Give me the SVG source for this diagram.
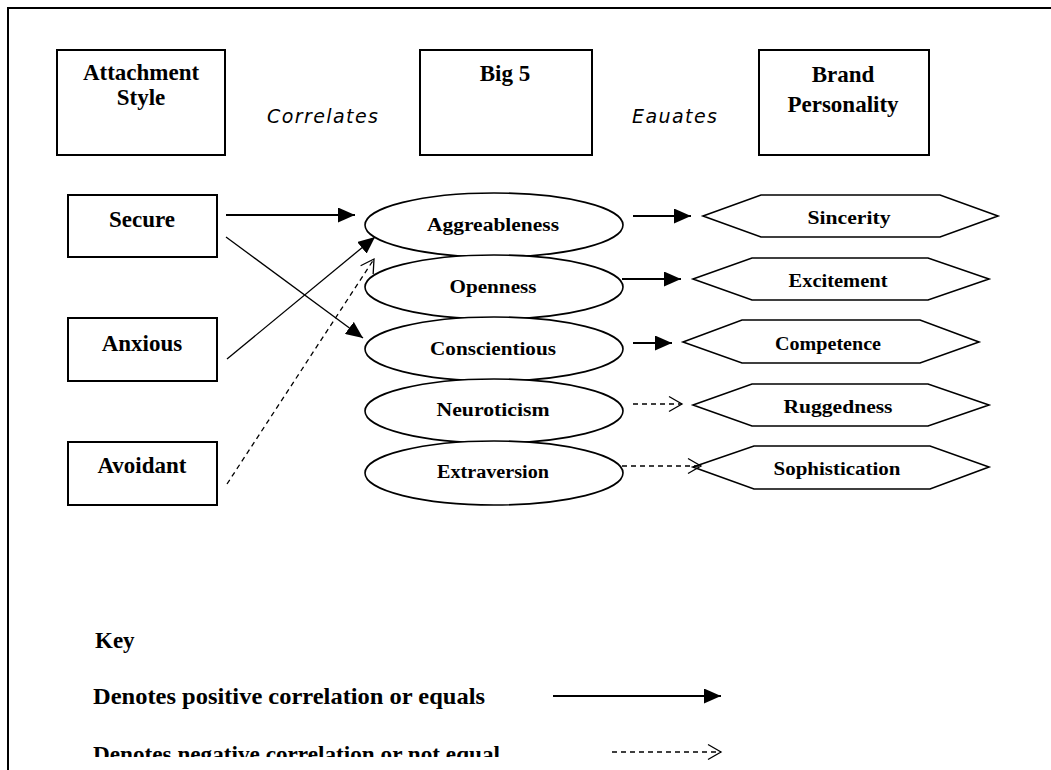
<svg xmlns="http://www.w3.org/2000/svg" width="1051" height="770" viewBox="0 0 1051 770">
  <style>
    .frame { fill: none; stroke: #000; stroke-width: 2; }
    .box { fill: #fff; stroke: #000; stroke-width: 2; }
    .oval { fill: #fff; stroke: #000; stroke-width: 1.6; }
    .hex { fill: #fff; stroke: #000; stroke-width: 1.6; stroke-linejoin: miter; }
    .title { font-family: "Liberation Serif", serif; font-weight: bold; font-size: 23px; fill: #000; text-anchor: middle; }
    .label { font-family: "Liberation Serif", serif; font-weight: bold; font-size: 18px; fill: #000; text-anchor: middle; }
    .verb { font-family: "DejaVu Sans", sans-serif; font-style: italic; font-size: 19px; fill: #000; }
    .key { font-family: "Liberation Serif", serif; font-weight: bold; font-size: 23px; fill: #000; }
    .solid { fill: none; stroke: #000; stroke-width: 1.8; }
    .thin { fill: none; stroke: #000; stroke-width: 1.3; }
    .dashed { fill: none; stroke: #000; stroke-width: 1.3; stroke-dasharray: 5 4; }
  </style>
  <defs>
    <marker id="head-solid" markerWidth="17" markerHeight="15" refX="17" refY="7.5" orient="auto" markerUnits="userSpaceOnUse">
      <path d="M0,0 L17,7.5 L0,15 Z" fill="#000"/>
    </marker>
    <marker id="head-open" markerWidth="15" markerHeight="17" refX="14" refY="8.5" orient="auto" markerUnits="userSpaceOnUse" overflow="visible">
      <path d="M1,1 L14,8.5 L1,16" fill="none" stroke="#000" stroke-width="1.3"/>
    </marker>
    <clipPath id="cut-bottom">
      <rect x="0" y="0" width="1051" height="757"/>
    </clipPath>
  </defs>

  <!-- page frame: top and left rules only -->
  <path class="frame" d="M8,770 L8,8 L1051,8"/>

  <!-- column headings -->
  <g id="attachment-style">
    <rect class="box" x="57" y="50" width="168" height="105"/>
    <text class="title" x="141" y="80">Attachment</text>
    <text class="title" x="141" y="105">Style</text>
  </g>
  <g id="big-5">
    <rect class="box" x="420" y="50" width="172" height="105"/>
    <text class="title" x="505" y="81">Big 5</text>
  </g>
  <g id="brand-personality">
    <rect class="box" x="759" y="50" width="170" height="105"/>
    <text class="title" x="843" y="82">Brand</text>
    <text class="title" x="843" y="112">Personality</text>
  </g>
  <text class="verb" x="267" y="123" textLength="111" lengthAdjust="spacing">Correlates</text>
  <text class="verb" x="632" y="123" textLength="85" lengthAdjust="spacing">Eauates</text>

  <!-- attachment styles -->
  <g id="secure">
    <rect class="box" x="68" y="195" width="149" height="62"/>
    <text class="title" x="142" y="227">Secure</text>
  </g>
  <g id="anxious">
    <rect class="box" x="68" y="318" width="149" height="63"/>
    <text class="title" x="142" y="351">Anxious</text>
  </g>
  <g id="avoidant">
    <rect class="box" x="68" y="442" width="149" height="63"/>
    <text class="title" x="142" y="473">Avoidant</text>
  </g>

  <!-- Big 5 traits, stacked ovals drawn top to bottom -->
  <g id="aggreableness">
    <ellipse class="oval" cx="494" cy="225" rx="129" ry="32"/>
    <text class="label" x="493" y="231" textLength="132" lengthAdjust="spacingAndGlyphs">Aggreableness</text>
  </g>
  <g id="openness">
    <ellipse class="oval" cx="494" cy="287" rx="129" ry="32"/>
    <text class="label" x="493" y="293" textLength="87" lengthAdjust="spacingAndGlyphs">Openness</text>
  </g>
  <g id="conscientious">
    <ellipse class="oval" cx="494" cy="349" rx="129" ry="32"/>
    <text class="label" x="493" y="355" textLength="126" lengthAdjust="spacingAndGlyphs">Conscientious</text>
  </g>
  <g id="neuroticism">
    <ellipse class="oval" cx="494" cy="411" rx="129" ry="32"/>
    <text class="label" x="493" y="416" textLength="113" lengthAdjust="spacingAndGlyphs">Neuroticism</text>
  </g>
  <g id="extraversion">
    <ellipse class="oval" cx="494" cy="473" rx="129" ry="32"/>
    <text class="label" x="493" y="478" textLength="112" lengthAdjust="spacingAndGlyphs">Extraversion</text>
  </g>

  <!-- brand personality dimensions -->
  <g id="sincerity">
    <polygon class="hex" points="703,216 761,195 940,195 998,216 940,237 761,237"/>
    <text class="label" x="849" y="224" textLength="83" lengthAdjust="spacingAndGlyphs">Sincerity</text>
  </g>
  <g id="excitement">
    <polygon class="hex" points="693,279 752,258 928,258 989,279 928,300 752,300"/>
    <text class="label" x="838" y="287" textLength="99" lengthAdjust="spacingAndGlyphs">Excitement</text>
  </g>
  <g id="competence">
    <polygon class="hex" points="683,342 742,320 920,320 979,342 920,363 742,363"/>
    <text class="label" x="828" y="350" textLength="106" lengthAdjust="spacingAndGlyphs">Competence</text>
  </g>
  <g id="ruggedness">
    <polygon class="hex" points="693,405 752,384 928,384 989,405 928,426 752,426"/>
    <text class="label" x="838" y="413" textLength="109" lengthAdjust="spacingAndGlyphs">Ruggedness</text>
  </g>
  <g id="sophistication">
    <polygon class="hex" points="693,467 754,446 930,446 989,467 930,489 754,489"/>
    <text class="label" x="837" y="475" textLength="127" lengthAdjust="spacingAndGlyphs">Sophistication</text>
  </g>

  <!-- connectors -->
  <g id="connectors">
    <line class="solid" x1="226" y1="215" x2="355" y2="215" marker-end="url(#head-solid)"/>
    <line class="thin" x1="226" y1="237" x2="363" y2="338" marker-end="url(#head-solid)"/>
    <line class="thin" x1="227" y1="359" x2="375" y2="237" marker-end="url(#head-solid)"/>
    <line class="dashed" x1="227" y1="484" x2="374" y2="259" marker-end="url(#head-open)"/>
    <line class="solid" x1="633" y1="216" x2="691" y2="216" marker-end="url(#head-solid)"/>
    <line class="solid" x1="622" y1="279" x2="681" y2="279" marker-end="url(#head-solid)"/>
    <line class="solid" x1="633" y1="343" x2="672" y2="343" marker-end="url(#head-solid)"/>
    <line class="dashed" x1="633" y1="404" x2="682" y2="404" marker-end="url(#head-open)"/>
    <line class="dashed" x1="622" y1="466" x2="701" y2="466" marker-end="url(#head-open)"/>
  </g>

  <!-- key -->
  <g id="key">
    <text class="key" x="95" y="648">Key</text>
    <text class="key" x="93" y="704" textLength="392" lengthAdjust="spacingAndGlyphs">Denotes positive correlation or equals</text>
    <line class="solid" x1="553" y1="696" x2="721" y2="696" marker-end="url(#head-solid)"/>
    <text class="key" x="93" y="762" textLength="407" lengthAdjust="spacingAndGlyphs" clip-path="url(#cut-bottom)">Denotes negative correlation or not equal</text>
    <line class="dashed" x1="612" y1="752" x2="721" y2="752" marker-end="url(#head-open)"/>
  </g>
</svg>
